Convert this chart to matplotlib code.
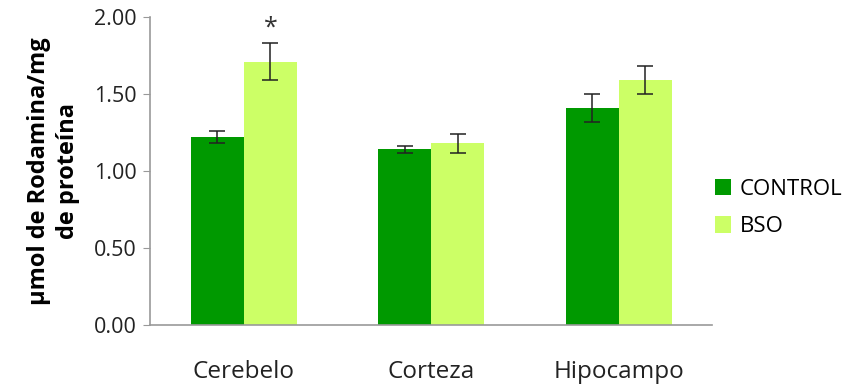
import numpy as np
import matplotlib.pyplot as plt

plt.rcParams['font.family'] = ['Open Sans', 'DejaVu Sans']

# Datos: rodamina por región cerebral
regiones = ['Cerebelo', 'Corteza', 'Hipocampo']
control = [1.22, 1.14, 1.41]
control_err = [0.04, 0.025, 0.09]
bso = [1.71, 1.18, 1.59]
bso_err = [0.12, 0.06, 0.09]
marca = ['*', '', '']

fig = plt.figure(figsize=(8.44, 3.87), dpi=100)
ax = fig.add_axes([0.178, 0.160, 0.666, 0.796])

x = np.arange(len(regiones))
w = 0.283
err_kw = dict(ecolor='#222222', elinewidth=1.1, capsize=6, capthick=1.1)
ax.bar(x - w/2, control, w, yerr=control_err, color='#009900', label='CONTROL',
       error_kw=err_kw)
ax.bar(x + w/2, bso, w, yerr=bso_err, color='#CCFF66', label='BSO',
       error_kw=err_kw)

# Asterisco de significancia
for i, m in enumerate(marca):
    if m:
        ax.text(x[i] + w/2, bso[i] + bso_err[i] + 0.02, m, ha='center',
                va='bottom', fontsize=18, color='#333333')

ax.set_xlim(-0.5, 2.5)
ax.set_ylim(0, 2.0)
ax.set_yticks([0, 0.5, 1.0, 1.5, 2.0])
ax.set_yticklabels(['0.00', '0.50', '1.00', '1.50', '2.00'])
ax.set_xticks(x)
ax.set_xticklabels(regiones)
ax.tick_params(axis='y', length=5, color='#999999', labelsize=15.5, pad=5,
               labelcolor='#222222')
ax.tick_params(axis='x', length=0, labelsize=17.5, pad=25, labelcolor='#222222')
for s in ['top', 'right']:
    ax.spines[s].set_visible(False)
for s in ['left', 'bottom']:
    ax.spines[s].set_color('#999999')
    ax.spines[s].set_linewidth(1.2)

ax.set_ylabel('µmol de Rodamina/mg\nde proteína', fontsize=17,
              fontweight='bold', labelpad=10, linespacing=1.25)

ax.legend(loc='center left', bbox_to_anchor=(1.0, 0.38), frameon=False,
          fontsize=16, handlelength=0.75, handleheight=0.75, handletextpad=0.4,
          labelspacing=0.75, borderaxespad=0.1, borderpad=0)

fig.savefig('out.png', dpi=100)
